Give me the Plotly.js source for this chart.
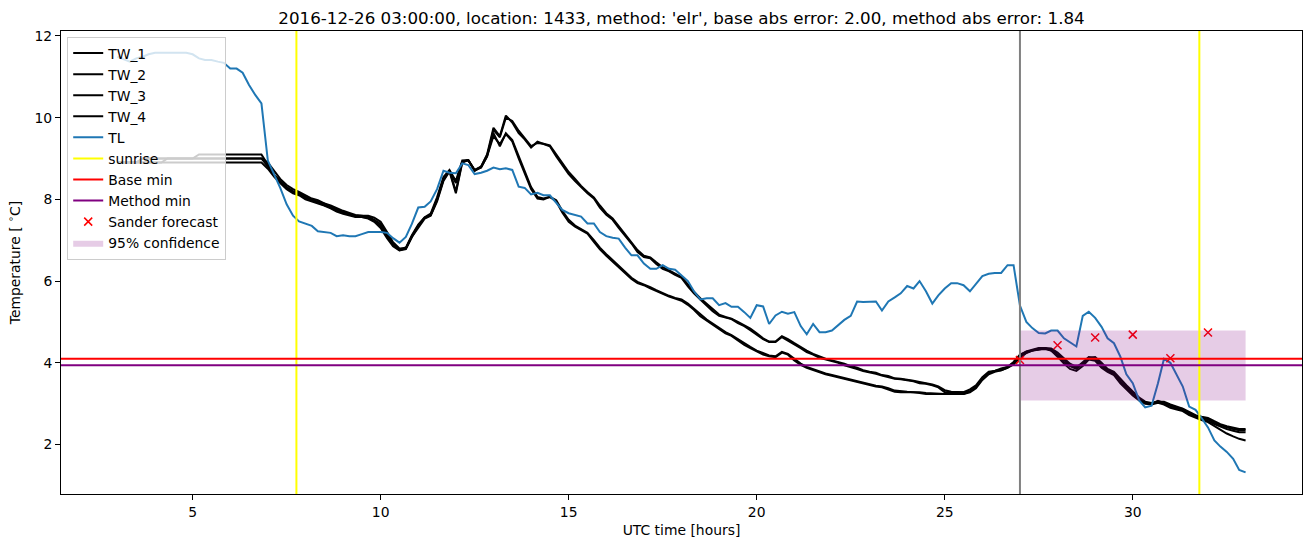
<!DOCTYPE html>
<html>
<head>
<meta charset="utf-8">
<script src="https://cdn.plot.ly/plotly-3.0.1.min.js"></script>
<style>html,body{margin:0;padding:0;background:#fff;}#chart{width:1310px;height:547px;}</style>
</head>
<body>
<div id="chart"></div>
<script>
// UTC time in hours (10-minute readings)
const TIME = [
3.00,3.17,3.33,3.50,3.67,3.83, 4.00,4.17,4.33,4.50,4.67,4.83,
5.00,5.17,5.33,5.50,5.67,5.83, 6.00,6.17,6.33,6.50,6.67,6.83,
7.00,7.17,7.33,7.50,7.67,7.83, 8.00,8.17,8.33,8.50,8.67,8.83,
9.00,9.17,9.33,9.50,9.67,9.83, 10.00,10.17,10.33,10.50,10.67,10.83,
11.00,11.17,11.33,11.50,11.67,11.83, 12.00,12.17,12.33,12.50,12.67,12.83,
13.00,13.17,13.33,13.50,13.67,13.83, 14.00,14.17,14.33,14.50,14.67,14.83,
15.00,15.17,15.33,15.50,15.67,15.83, 16.00,16.17,16.33,16.50,16.67,16.83,
17.00,17.17,17.33,17.50,17.67,17.83, 18.00,18.17,18.33,18.50,18.67,18.83,
19.00,19.17,19.33,19.50,19.67,19.83, 20.00,20.17,20.33,20.50,20.67,20.83,
21.00,21.17,21.33,21.50,21.67,21.83, 22.00,22.17,22.33,22.50,22.67,22.83,
23.00,23.17,23.33,23.50,23.67,23.83, 24.00,24.17,24.33,24.50,24.67,24.83,
25.00,25.17,25.33,25.50,25.67,25.83, 26.00,26.17,26.33,26.50,26.67,26.83,
27.00,27.17,27.33,27.50,27.67,27.83, 28.00,28.17,28.33,28.50,28.67,28.83,
29.00,29.17,29.33,29.50,29.67,29.83, 30.00,30.17,30.33,30.50,30.67,30.83,
31.00,31.17,31.33,31.50,31.67,31.83, 32.00,32.17,32.33,32.50,32.67,32.83,
33.00];

const TL = [
11.49,11.42,11.37,11.45,11.49,11.55, 11.59,11.59,11.59,11.59,11.59,11.59,
11.55,11.45,11.41,11.41,11.37,11.34, 11.2,11.2,11.1,10.8,10.55,10.35,
8.95,8.6,8.28,7.88,7.6,7.46, 7.41,7.35,7.22,7.2,7.18,7.1,
7.12,7.1,7.1,7.15,7.2,7.2, 7.2,7.18,7.05,6.94,7.08,7.4,
7.8,7.82,7.95,8.25,8.7,8.65, 8.64,8.88,8.84,8.62,8.65,8.7,
8.78,8.74,8.76,8.72,8.31,8.28, 8.12,8.16,8.1,8.1,7.92,7.74,
7.66,7.62,7.58,7.41,7.41,7.2, 7.1,7.06,7.04,6.82,6.63,6.63,
6.43,6.3,6.3,6.39,6.3,6.28, 6.14,6.0,5.75,5.55,5.58,5.58,
5.41,5.46,5.37,5.37,5.24,5.1, 5.41,5.38,4.95,5.16,5.25,5.2,
5.24,4.9,4.7,4.95,4.75,4.75, 4.79,4.92,5.05,5.15,5.5,5.49,
5.5,5.5,5.28,5.5,5.6,5.7, 5.88,5.82,6.0,5.75,5.45,5.65,
5.82,5.95,5.95,5.9,5.75,5.92, 6.12,6.18,6.2,6.2,6.39,6.39,
5.4,5.0,4.85,4.73,4.72,4.79, 4.79,4.6,4.51,4.4,5.15,5.25,
5.1,4.88,4.6,4.48,4.15,3.72, 3.5,3.08,2.91,2.95,3.5,4.1,
4.0,3.7,3.42,2.93,2.85,2.65, 2.42,2.1,1.95,1.82,1.65,1.38,
1.32];

const TW_1 = [
8.9,8.9,8.9,8.9,9.0,9.0, 9.0,9.0,9.0,9.0,9.0,9.0,
9.0,9.1,9.1,9.1,9.1,9.1, 9.1,9.1,9.1,9.1,9.1,9.1,
8.85,8.6,8.45,8.3,8.2,8.15, 8.06,8.0,7.94,7.9,7.82,7.75,
7.7,7.65,7.6,7.6,7.57,7.5, 7.4,7.15,6.9,6.78,6.82,7.12,
7.38,7.56,7.65,8.05,8.55,8.72, 8.45,8.95,8.96,8.7,8.8,9.1,
9.75,9.55,10.05,9.88,9.62,9.47, 9.27,9.41,9.35,9.3,9.05,8.85,
8.62,8.45,8.3,8.15,8.02,7.8, 7.62,7.5,7.3,7.12,6.92,6.71,
6.59,6.56,6.42,6.3,6.24,6.15, 6.08,5.87,5.7,5.55,5.4,5.26,
5.15,5.1,5.07,4.97,4.9,4.8, 4.68,4.58,4.51,4.51,4.63,4.55,
4.45,4.36,4.26,4.2,4.12,4.08, 4.04,4.0,3.94,3.9,3.85,3.8,
3.77,3.73,3.69,3.65,3.61,3.6, 3.57,3.55,3.5,3.49,3.45,3.4,
3.28,3.28,3.28,3.28,3.35,3.45, 3.65,3.78,3.8,3.86,3.9,4.02,
4.2,4.27,4.3,4.35,4.35,4.32, 4.2,4.07,3.95,3.88,4.02,4.14,
4.12,3.95,3.82,3.75,3.55,3.4, 3.25,3.12,3.03,3.0,3.07,3.02,
2.95,2.9,2.87,2.76,2.7,2.66, 2.62,2.53,2.47,2.42,2.38,2.35,
2.35];

const TW_2 = [
8.9,8.9,8.9,8.9,8.9,8.9, 8.9,8.9,9.0,9.0,9.0,9.0,
9.0,9.0,9.0,9.0,9.0,9.0, 9.0,9.0,9.0,9.0,9.0,9.0,
8.9,8.7,8.5,8.35,8.25,8.18, 8.1,8.02,7.98,7.9,7.85,7.78,
7.72,7.67,7.62,7.6,7.6,7.55, 7.45,7.2,6.95,6.8,6.8,7.08,
7.35,7.55,7.62,8.0,8.5,8.7, 8.4,8.92,8.96,8.72,8.78,9.05,
9.7,9.52,10.0,9.92,9.68,9.5, 9.3,9.38,9.36,9.32,9.1,8.9,
8.67,8.5,8.33,8.18,8.05,7.85, 7.66,7.53,7.35,7.16,6.96,6.76,
6.62,6.58,6.46,6.34,6.26,6.18, 6.1,5.92,5.74,5.58,5.44,5.3,
5.18,5.12,5.08,5.0,4.92,4.84, 4.72,4.6,4.52,4.52,4.65,4.58,
4.48,4.38,4.3,4.22,4.15,4.1, 4.06,4.02,3.98,3.92,3.88,3.82,
3.78,3.76,3.7,3.68,3.62,3.61, 3.59,3.56,3.53,3.5,3.47,3.42,
3.33,3.29,3.28,3.28,3.3,3.4, 3.6,3.75,3.8,3.82,3.88,3.98,
4.15,4.25,4.3,4.32,4.36,4.35, 4.25,4.1,3.98,3.9,3.98,4.12,
4.14,4.0,3.85,3.78,3.6,3.45, 3.3,3.15,3.05,3.02,3.05,3.05,
2.98,2.92,2.88,2.8,2.72,2.68, 2.65,2.57,2.5,2.45,2.41,2.38,
2.38];

const TW_3 = [
8.9,8.9,8.9,8.9,8.9,8.9, 8.9,8.9,8.9,8.9,8.9,8.9,
8.9,8.9,8.9,8.9,8.9,8.9, 8.9,8.9,8.9,8.9,8.9,8.9,
8.75,8.55,8.4,8.25,8.15,8.1, 8.0,7.95,7.9,7.85,7.78,7.7,
7.65,7.6,7.57,7.57,7.53,7.45, 7.3,7.05,6.85,6.75,6.78,7.08,
7.32,7.53,7.6,7.95,8.45,8.68, 8.15,8.9,8.96,8.7,8.78,9.05,
9.55,9.35,9.6,9.42,9.0,8.62, 8.25,8.02,8.0,8.06,7.95,7.68,
7.45,7.33,7.24,7.16,6.96,6.78, 6.62,6.48,6.33,6.2,6.05,5.95,
5.9,5.82,5.75,5.68,5.62,5.57, 5.52,5.42,5.3,5.14,5.03,4.93,
4.82,4.72,4.66,4.55,4.44,4.36, 4.28,4.2,4.16,4.14,4.25,4.2,
4.06,3.95,3.88,3.82,3.77,3.72, 3.68,3.64,3.6,3.56,3.52,3.49,
3.45,3.42,3.4,3.35,3.29,3.28, 3.28,3.28,3.26,3.24,3.24,3.24,
3.24,3.24,3.24,3.24,3.3,3.42, 3.62,3.76,3.8,3.84,3.9,4.0,
4.18,4.28,4.32,4.36,4.36,4.3, 4.18,4.02,3.92,3.85,3.98,4.12,
4.08,3.9,3.8,3.72,3.52,3.38, 3.22,3.1,3.02,3.0,3.06,3.0,
2.93,2.88,2.85,2.74,2.68,2.63, 2.58,2.5,2.44,2.38,2.34,2.3,
2.3];

const TW_4 = [
8.9,8.9,8.9,8.9,9.0,9.0, 9.0,9.0,9.0,9.0,9.0,9.0,
9.0,9.0,9.0,9.0,9.0,9.0, 9.0,9.0,9.0,9.0,9.0,9.0,
8.8,8.58,8.42,8.28,8.18,8.12, 8.03,7.97,7.92,7.87,7.8,7.73,
7.68,7.62,7.58,7.57,7.55,7.48, 7.35,7.1,6.88,6.76,6.8,7.1,
7.36,7.55,7.62,7.98,8.48,8.7, 8.2,8.92,8.96,8.72,8.8,9.08,
9.62,9.3,9.62,9.45,9.05,8.66, 8.3,8.06,8.02,8.06,7.98,7.72,
7.5,7.36,7.27,7.18,7.0,6.82, 6.66,6.51,6.36,6.23,6.08,5.98,
5.92,5.85,5.78,5.7,5.64,5.59, 5.55,5.45,5.33,5.18,5.06,4.96,
4.86,4.75,4.68,4.58,4.47,4.39, 4.3,4.23,4.18,4.16,4.27,4.22,
4.09,3.98,3.9,3.84,3.79,3.74, 3.7,3.66,3.62,3.58,3.54,3.51,
3.47,3.44,3.42,3.38,3.32,3.3, 3.29,3.28,3.28,3.26,3.25,3.24,
3.24,3.24,3.24,3.24,3.28,3.38, 3.58,3.72,3.78,3.82,3.88,3.96,
4.12,4.24,4.3,4.33,4.34,4.3, 4.15,3.98,3.85,3.8,3.92,4.08,
4.05,3.88,3.78,3.7,3.5,3.36, 3.2,3.08,3.0,2.98,3.02,2.98,
2.9,2.86,2.82,2.72,2.65,2.6, 2.55,2.45,2.35,2.27,2.2,2.14,
2.1];

const SUNRISE = [7.76, 31.77];
const FORECAST_START = 27.0;
const BASE_MIN = 4.1;
const METHOD_MIN = 3.94;
const SANDER_TIME = [27, 28, 29, 30, 31, 32];
const SANDER_VALUE = [4.07, 4.43, 4.62, 4.69, 4.11, 4.74];
const CONF_TIME = [27, 33];
const CONF_LO = [3.08, 3.08];
const CONF_HI = [4.79, 4.79];
const X_TICKS = [5, 10, 15, 20, 25, 30];
const Y_TICKS = [2, 4, 6, 8, 10, 12];

const FONT = 'DejaVu Sans, sans-serif';
const traces = [];
[['TW_1', TW_1], ['TW_2', TW_2], ['TW_3', TW_3], ['TW_4', TW_4]].forEach(([n, v], i) => {
  traces.push({x: TIME, y: v, type: 'scatter', mode: 'lines', name: n,
    line: {color: 'black', width: 2}, legendrank: i + 1});
});
traces.push({x: TIME, y: TL, type: 'scatter', mode: 'lines', name: 'TL',
  line: {color: '#1f77b4', width: 2}, legendrank: 5});
traces.push({x: SANDER_TIME, y: SANDER_VALUE, type: 'scatter', mode: 'markers', name: 'Sander forecast',
  marker: {symbol: 'x-thin', size: 8, color: 'red', line: {color: 'red', width: 1.5}}, legendrank: 9});
traces.push({x: CONF_TIME.concat(CONF_TIME.slice().reverse()),
  y: CONF_HI.concat(CONF_LO.slice().reverse()),
  type: 'scatter', mode: 'lines', fill: 'toself', fillcolor: 'rgba(128,0,128,0.2)',
  line: {width: 0, color: 'rgba(0,0,0,0)'}, name: '95% confidence', legendrank: 10, hoverinfo: 'skip'});

const shapes = [];
SUNRISE.forEach((s, i) => shapes.push({type: 'line', xref: 'x', yref: 'paper', x0: s, x1: s, y0: 0, y1: 1,
  line: {color: 'yellow', width: 2}, layer: 'above', name: 'sunrise', showlegend: i === 0, legendrank: 6}));
shapes.push({type: 'line', xref: 'x', yref: 'paper', x0: FORECAST_START, x1: FORECAST_START, y0: 0, y1: 1,
  line: {color: 'grey', width: 2}, layer: 'above', showlegend: false});
shapes.push({type: 'line', xref: 'paper', yref: 'y', x0: 0, x1: 1, y0: BASE_MIN, y1: BASE_MIN,
  line: {color: 'red', width: 2}, layer: 'above', name: 'Base min', showlegend: true, legendrank: 7});
shapes.push({type: 'line', xref: 'paper', yref: 'y', x0: 0, x1: 1, y0: METHOD_MIN, y1: METHOD_MIN,
  line: {color: 'purple', width: 2}, layer: 'above', name: 'Method min', showlegend: true, legendrank: 8});

const layout = {
  width: 1310, height: 547,
  margin: {l: 61, r: 8, t: 31, b: 53},
  paper_bgcolor: 'white', plot_bgcolor: 'white',
  font: {family: FONT, size: 13.9, color: 'black'},
  title: {text: "2016-12-26 03:00:00, location: 1433, method: 'elr', base abs error: 2.00, method abs error: 1.84",
    font: {family: FONT, size: 16.7, color: 'black'}, x: 0.5, xref: 'paper', xanchor: 'center',
    y: 0.967, yref: 'container', yanchor: 'middle'},
  xaxis: {range: [1.5, 34.5], tickvals: X_TICKS, ticktext: X_TICKS.map(String),
    ticks: 'outside', ticklen: 5, tickwidth: 1, tickcolor: 'black',
    showline: true, mirror: true, linecolor: 'black', linewidth: 1, showgrid: false, zeroline: false,
    tickfont: {family: FONT, size: 13.9},
    title: {text: 'UTC time [hours]', font: {family: FONT, size: 13.9}, standoff: 6}},
  yaxis: {range: [0.79, 12.12], tickvals: Y_TICKS, ticktext: Y_TICKS.map(String),
    ticks: 'outside', ticklen: 5, tickwidth: 1, tickcolor: 'black',
    showline: true, mirror: true, linecolor: 'black', linewidth: 1, showgrid: false, zeroline: false,
    tickfont: {family: FONT, size: 13.9},
    title: {text: 'Temperature [ <sup>∘</sup>C]', font: {family: FONT, size: 13.9}, standoff: 10}},
  legend: {x: 0.005, y: 0.988, xanchor: 'left', yanchor: 'top',
    bgcolor: 'rgba(255,255,255,0.8)', bordercolor: '#cccccc', borderwidth: 1,
    font: {family: FONT, size: 13.9}, traceorder: 'normal'},
  shapes: shapes,
  showlegend: true
};

Plotly.newPlot('chart', traces, layout, {displayModeBar: false, staticPlot: true});
</script>
</body>
</html>
